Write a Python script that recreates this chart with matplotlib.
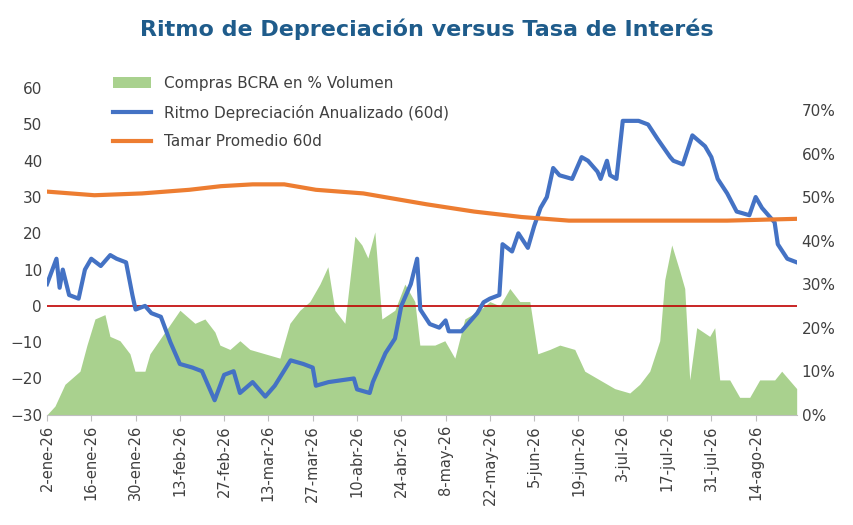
import datetime as dt
import matplotlib.pyplot as plt
import matplotlib.dates as mdates
from matplotlib.ticker import FuncFormatter

start = dt.date(2026, 1, 2)

# Ritmo Depreciación Anualizado (60d) - left axis
dep_days = [0, 3, 4, 5, 7, 10, 12, 14, 17, 20, 22, 25, 27, 28, 31, 33, 36, 39, 42, 46, 49, 51, 53,
            56, 59, 61, 65, 69, 72, 77, 81, 84, 85, 89, 97, 98, 102, 103, 107, 110, 112, 115, 117,
            118, 121, 124, 126, 127, 131, 133, 136, 138, 140, 143, 144, 147, 149, 152, 154, 156,
            158, 160, 162, 166, 169, 171, 174, 175, 177, 178, 180, 182, 187, 190, 193, 197, 198,
            201, 204, 208, 210, 212, 215, 218, 222, 224, 226, 230, 231, 234, 237]
dep_vals = [6, 13, 5, 10, 3, 2, 10, 13, 11, 14, 13, 12, 3, -1, 0, -2, -3, -10, -16, -17, -18, -22, -26,
            -19, -18, -24, -21, -25, -22, -15, -16, -17, -22, -21, -20, -23, -24, -21, -13, -9, 0, 6, 13,
            -1, -5, -6, -4, -7, -7, -5, -2, 1, 2, 3, 17, 15, 20, 16, 22, 27,
            30, 38, 36, 35, 41, 40, 37, 35, 40, 36, 35, 51, 51, 50, 46, 41, 40,
            39, 47, 44, 41, 35, 31, 26, 25, 30, 27, 23, 17, 13, 12]

# Tamar Promedio 60d - left axis
tam_days = [0, 15, 30, 45, 55, 65, 75, 85, 100, 110, 120, 135, 150, 165, 215, 237]
tam_vals = [31.5, 30.5, 31, 32, 33, 33.5, 33.5, 32, 31, 29.5, 28, 26, 24.5, 23.5, 23.5, 24]

# Compras BCRA en % Volumen - right axis (%)
buy_px = [47, 55, 65, 75, 80, 87, 95, 105, 110, 120, 130, 135, 145, 150, 165, 180, 195, 205, 215,
          220, 230, 240, 250, 265, 280, 290, 300, 310, 320, 328, 335, 345, 355, 362, 368, 375, 382,
          395, 405, 415, 420, 435, 445, 455, 465, 480, 490, 500, 510, 520, 530, 538, 550, 560, 575,
          585, 600, 615, 630, 640, 650, 660, 665, 672, 680, 685, 690, 697, 710, 715, 720, 730, 740,
          750, 760, 775, 782, 797]
buy_vals = [0, 2, 7, 9, 10, 16, 22, 23, 18, 17, 14, 10, 10, 14, 19, 24, 21, 22, 19,
            16, 15, 17, 15, 14, 13, 21, 24, 26, 30, 34, 24, 21, 41, 39, 36, 42, 22,
            24, 30, 26, 16, 16, 17, 13, 22, 24, 26, 25, 29, 26, 26, 14, 15, 16, 15,
            10, 8, 6, 5, 7, 10, 17, 31, 39, 33, 29, 8, 20, 18, 20, 8, 8, 4,
            4, 8, 8, 10, 6]
buy_days = [(p - 47) / 3.165 for p in buy_px]

def to_dates(days):
    return [mdates.date2num(start) + d for d in days]

meses = ["ene", "feb", "mar", "abr", "may", "jun", "jul", "ago", "sep", "oct", "nov", "dic"]

def fmt_date(x, pos):
    d = mdates.num2date(x)
    return f"{d.day}-{meses[d.month - 1]}-{d.strftime('%y')}"

fig, ax = plt.subplots(figsize=(8.54, 5.25), dpi=100)
fig.subplots_adjust(left=0.055, right=0.933, top=0.832, bottom=0.21)
ax2 = ax.twinx()
ax.set_zorder(ax2.get_zorder() + 1)
ax.patch.set_visible(False)

ax2.fill_between(to_dates(buy_days), 0, buy_vals, color="#a9d18e", lw=0,
                 label="Compras BCRA en % Volumen")
ax.axhline(0, color="#c00000", lw=1.2)
l1, = ax.plot(to_dates(dep_days), dep_vals, color="#4472c4", lw=3,
              label="Ritmo Depreciación Anualizado (60d)")
l2, = ax.plot(to_dates(tam_days), tam_vals, color="#ed7d31", lw=3,
              label="Tamar Promedio 60d")

x0 = mdates.date2num(start)
ax.set_xlim(x0, x0 + 237)
ax.set_ylim(-30, 60)
ax.set_yticks(range(-30, 61, 10))
ax2.set_ylim(0, 75)
ax2.set_yticks(range(0, 71, 10))
ax2.yaxis.set_major_formatter(FuncFormatter(lambda v, p: f"{int(v)}%"))
ax.set_xticks([x0 + 14 * i for i in range(17)])
ax.xaxis.set_major_formatter(FuncFormatter(fmt_date))
plt.setp(ax.get_xticklabels(), rotation=90)

for a in (ax, ax2):
    for s in a.spines.values():
        s.set_visible(False)
    a.tick_params(length=0, labelsize=11, colors="#404040")
ax.spines["bottom"].set_visible(True)
ax.spines["bottom"].set_color("#bfbfbf")
ax.tick_params(axis="x", length=4, color="#bfbfbf", labelsize=10.5)

h2 = ax2.get_legend_handles_labels()
ax.legend([h2[0][0], l1, l2], [h2[1][0], l1.get_label(), l2.get_label()],
          loc="upper left", bbox_to_anchor=(0.07, 1.08), frameon=False, fontsize=11,
          labelcolor="#404040", handlelength=2.5, labelspacing=0.9)

fig.suptitle("Ritmo de Depreciación versus Tasa de Interés", fontsize=16, fontweight="bold",
             color="#1f5c8b", y=0.965)

fig.savefig("out.png", dpi=100)
